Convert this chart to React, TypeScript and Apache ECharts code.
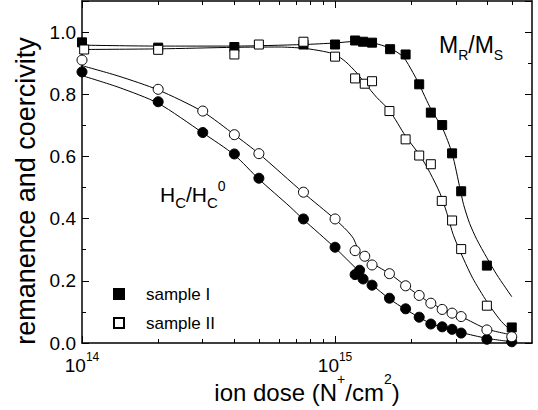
import React, { useEffect, useRef } from "react";
import * as echarts from "echarts";

const FONT = "Liberation Sans, Arial, Helvetica, sans-serif";

// tick positions (ion dose, N+/cm2)
const majorDoseTicks = [1e14, 1e15];
const minorDoseTicks = [2e14, 3e14, 4e14, 5e14, 6e14, 7e14, 8e14, 9e14, 2e15, 3e15, 4e15, 5e15, 6e15];

// measured points: [dose, value]
const sampleIRemanence = [
  [1e14, 0.967], [2e14, 0.95], [4e14, 0.952], [7.5e14, 0.96], [1e15, 0.96], [1.2e15, 0.973],
  [1.29e15, 0.969], [1.4e15, 0.966], [1.65e15, 0.945], [1.9e15, 0.928], [2.15e15, 0.832],
  [2.39e15, 0.741], [2.65e15, 0.701], [2.9e15, 0.61], [3.15e15, 0.488], [3.98e15, 0.249], [4.99e15, 0.05],
];
const sampleIIRemanence = [
  [1.02e14, 0.944], [2e14, 0.943], [4e14, 0.928], [5e14, 0.96], [7.5e14, 0.969], [1e15, 0.921],
  [1.2e15, 0.851], [1.31e15, 0.834], [1.4e15, 0.842], [1.64e15, 0.746], [1.9e15, 0.655],
  [2.15e15, 0.603], [2.39e15, 0.575], [2.64e15, 0.457], [2.9e15, 0.394], [3.15e15, 0.302], [3.98e15, 0.12],
];
const sampleICoercivity = [
  [1e14, 0.872], [2e14, 0.776], [3e14, 0.677], [4e14, 0.608], [5e14, 0.53], [7.5e14, 0.399],
  [1e15, 0.308], [1.2e15, 0.22], [1.25e15, 0.234], [1.29e15, 0.206], [1.4e15, 0.186], [1.64e15, 0.144],
  [1.9e15, 0.11], [2.15e15, 0.083], [2.39e15, 0.061], [2.65e15, 0.052], [2.9e15, 0.044], [3.15e15, 0.032],
  [3.98e15, 0.012], [4.99e15, 0.004],
];
const sampleIICoercivity = [
  [1e14, 0.91], [2e14, 0.816], [3e14, 0.746], [4e14, 0.67], [5e14, 0.609], [7.5e14, 0.485],
  [1e15, 0.399], [1.2e15, 0.297], [1.31e15, 0.279], [1.4e15, 0.251], [1.64e15, 0.223], [1.9e15, 0.184],
  [2.15e15, 0.153], [2.39e15, 0.128], [2.65e15, 0.108], [2.9e15, 0.096], [3.15e15, 0.085],
  [3.98e15, 0.042], [4.99e15, 0.02],
];

// fitted curves
const fitIRemanence = [
  [1e14, 0.958], [2e14, 0.955], [4e14, 0.955], [7.5e14, 0.96], [1e15, 0.965], [1.2e15, 0.97],
  [1.4e15, 0.966], [1.65e15, 0.948], [1.86e15, 0.92], [2.03e15, 0.87], [2.14e15, 0.835],
  [2.4e15, 0.75], [2.66e15, 0.69], [2.9e15, 0.61], [3.12e15, 0.495], [3.22e15, 0.445],
  [3.4e15, 0.385], [3.63e15, 0.333], [3.98e15, 0.274], [4.36e15, 0.219], [4.99e15, 0.149],
];
const fitIIRemanence = [
  [1e14, 0.944], [2e14, 0.946], [4e14, 0.951], [6e14, 0.952], [7.5e14, 0.948], [9e14, 0.938],
  [1e15, 0.928], [1.1e15, 0.905], [1.22e15, 0.868], [1.31e15, 0.836], [1.46e15, 0.79],
  [1.64e15, 0.748], [1.9e15, 0.665], [2.17e15, 0.602], [2.37e15, 0.548], [2.6e15, 0.481],
  [2.76e15, 0.42], [2.94e15, 0.345], [3.22e15, 0.27], [3.5e15, 0.208], [3.98e15, 0.133],
  [4.49e15, 0.074], [4.99e15, 0.036],
];
const fitICoercivity = [
  [1e14, 0.86], [1.4e14, 0.822], [2e14, 0.771], [3e14, 0.676], [4e14, 0.605], [5e14, 0.527],
  [6.64e14, 0.438], [7.5e14, 0.397], [1e15, 0.306], [1.22e15, 0.237], [1.4e15, 0.188],
  [1.64e15, 0.142], [1.9e15, 0.108], [2.39e15, 0.063], [3.15e15, 0.034], [3.98e15, 0.015], [4.99e15, 0.004],
];
const fitIICoercivity = [
  [1e14, 0.892], [1.4e14, 0.858], [2e14, 0.814], [3e14, 0.744], [4e14, 0.67], [5e14, 0.609],
  [7.5e14, 0.483], [1e15, 0.398], [1.11e15, 0.363], [1.18e15, 0.337], [1.22e15, 0.31],
  [1.25e15, 0.292], [1.33e15, 0.268], [1.65e15, 0.222], [1.9e15, 0.184], [2.39e15, 0.128],
  [3.15e15, 0.085], [3.98e15, 0.045], [4.99e15, 0.026],
];

const legendNames = ["sample I", "sample II"];

export default function App() {
  const ref = useRef<HTMLDivElement>(null);
  useEffect(() => {
    if (!ref.current) return;
    const chart = echarts.init(ref.current, null, { renderer: "svg" });
    const black = "#000";
    const baseX = {
      type: "log",
      logBase: 10,
      min: 1e14,
      max: 6e15,
      gridIndex: 0,
      splitLine: { show: false },
      minorTick: { show: false },
      minorSplitLine: { show: false },
    };
    const yBase = {
      type: "value",
      min: 0,
      max: 1.1,
      interval: 0.2,
      splitLine: { show: false },
      minorSplitLine: { show: false },
      axisLine: { show: true, lineStyle: { color: black, width: 1.5 } },
      axisTick: { show: true, inside: true, length: 7, lineStyle: { color: black, width: 1 } },
      minorTick: { show: true, splitNumber: 2, length: 4, lineStyle: { color: black, width: 1 } },
    };
    const fitLine = (name: string, data: number[][]) => ({
      name,
      type: "line",
      data,
      symbol: "none",
      showSymbol: false,
      smooth: 0.25,
      silent: true,
      z: 1,
      lineStyle: { color: black, width: 1 },
    });
    const scatter = (name: string, data: number[][], symbol: string, filled: boolean, size: number) => ({
      name,
      type: "scatter",
      data,
      symbol,
      symbolSize: size,
      z: 3,
      itemStyle: filled
        ? { color: black, borderColor: black, borderWidth: 1, opacity: 1 }
        : { color: "#fff", borderColor: black, borderWidth: 1, opacity: 1 },
    });
    chart.setOption({
      animation: false,
      backgroundColor: "#fff",
      textStyle: { fontFamily: FONT },
      grid: { left: 82, right: 6, top: 1, bottom: 67, containLabel: false },
      legend: {
        orient: "vertical",
        left: 113,
        top: 285.5,
        padding: 0,
        itemWidth: 10,
        itemHeight: 10,
        itemGap: 12,
        selectedMode: false,
        textStyle: { fontSize: 17, color: black, fontFamily: FONT, lineHeight: 12, padding: [0, 0, 0, 17] },
        data: legendNames.map((n) => ({ name: n, icon: "rect" })),
      },
      xAxis: [
        {
          ...baseX,
          position: "bottom",
          axisLine: { show: true, lineStyle: { color: black, width: 1.5 } },
          axisTick: { show: true, inside: true, length: 7, customValues: majorDoseTicks, lineStyle: { color: black, width: 1 } },
          axisLabel: {
            show: true,
            customValues: majorDoseTicks,
            margin: 12,
            color: black,
            formatter: (v: number) => `{b|10}{s|${Math.round(Math.log10(v))}}`,
            rich: {
              b: { fontSize: 19, lineHeight: 20, fontFamily: FONT, color: black },
              s: { fontSize: 12, lineHeight: 8, verticalAlign: "top", padding: [-4, 0, 0, 0], fontFamily: FONT, color: black },
            },
          },
        },
        {
          ...baseX,
          position: "bottom",
          axisLine: { show: false },
          axisTick: { show: true, inside: true, length: 4, customValues: minorDoseTicks, lineStyle: { color: black, width: 1 } },
          axisLabel: { show: false },
        },
        {
          ...baseX,
          position: "top",
          axisLine: { show: true, lineStyle: { color: black, width: 1.5 } },
          axisTick: { show: true, inside: true, length: 7, customValues: majorDoseTicks, lineStyle: { color: black, width: 1 } },
          axisLabel: { show: false },
        },
        {
          ...baseX,
          position: "top",
          axisLine: { show: false },
          axisTick: { show: true, inside: true, length: 4, customValues: minorDoseTicks, lineStyle: { color: black, width: 1 } },
          axisLabel: { show: false },
        },
      ],
      yAxis: [
        {
          ...yBase,
          position: "left",
          axisLabel: {
            show: true,
            margin: 6,
            fontSize: 19,
            color: black,
            fontFamily: FONT,
            formatter: (v: number) => (v > 1.05 ? "" : v.toFixed(1)),
          },
        },
        { ...yBase, position: "right", axisLabel: { show: false } },
      ],
      graphic: [
        {
          type: "text",
          x: 25.5,
          y: 191,
          rotation: Math.PI / 2,
          silent: true,
          style: {
            text: "remanence and coercivity",
            fontSize: 27,
            fontFamily: FONT,
            fill: black,
            align: "center",
            verticalAlign: "middle",
          },
        },
        {
          type: "text",
          x: 307,
          y: 379.2,
          silent: true,
          style: {
            text: "ion dose (N{sup|+}/cm{sup|2})",
            fontSize: 24,
            lineHeight: 26,
            fontFamily: FONT,
            fill: black,
            align: "center",
            verticalAlign: "top",
            rich: {
              sup: { fontSize: 14, lineHeight: 8, verticalAlign: "top", padding: [-7.5, 0, 0, 0], fontFamily: FONT, fill: black },
            },
          },
        },
        {
          type: "text",
          x: 160,
          y: 179,
          silent: true,
          style: {
            text: "H{sub|C}/H{sub|C}{sup|0}",
            fontSize: 21,
            lineHeight: 31,
            fontFamily: FONT,
            fill: black,
            align: "left",
            verticalAlign: "top",
            rich: {
              sub: { fontSize: 15, lineHeight: 15, verticalAlign: "bottom", fontFamily: FONT, fill: black },
              sup: { fontSize: 14, lineHeight: 14, verticalAlign: "top", fontFamily: FONT, fill: black },
            },
          },
        },
        {
          type: "text",
          x: 439,
          y: 28.2,
          silent: true,
          style: {
            text: "M{sub|R}/M{sub|S}",
            fontSize: 23,
            lineHeight: 34,
            fontFamily: FONT,
            fill: black,
            align: "left",
            verticalAlign: "top",
            rich: {
              sub: { fontSize: 14, lineHeight: 14, verticalAlign: "bottom", fontFamily: FONT, fill: black },
            },
          },
        },
      ],
      series: [
        fitLine("fit I M", fitIRemanence),
        fitLine("fit II M", fitIIRemanence),
        fitLine("fit I H", fitICoercivity),
        fitLine("fit II H", fitIICoercivity),
        scatter("sample I", sampleIRemanence, "rect", true, 9),
        scatter("sample II", sampleIIRemanence, "rect", false, 9),
        scatter("sample I H", sampleICoercivity, "circle", true, 10),
        scatter("sample II H", sampleIICoercivity, "circle", false, 10),
      ],
    });
    return () => chart.dispose();
  }, []);
  return <div ref={ref} style={{ position: "absolute", left: 0, top: 0, width: 538, height: 410 }} />;
}
